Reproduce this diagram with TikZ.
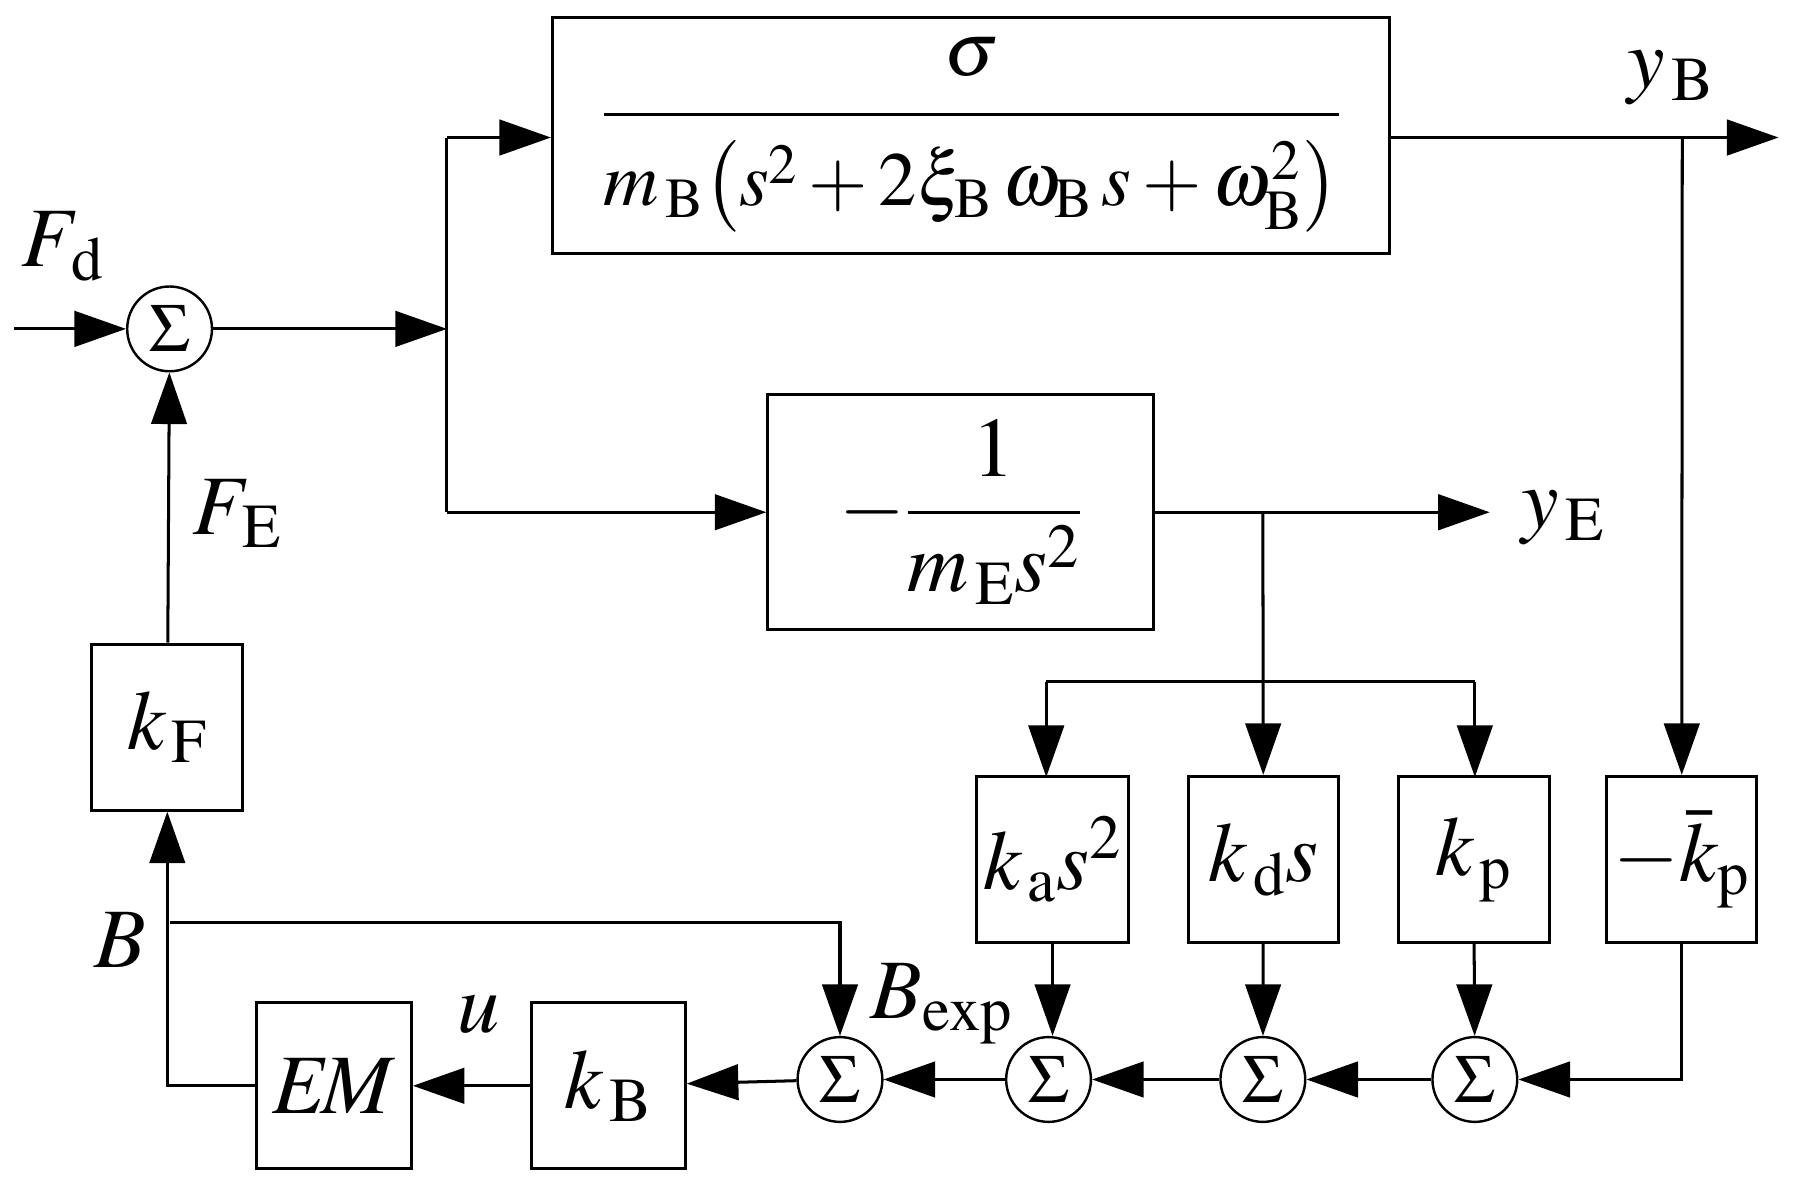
\documentclass[tikz,border=0pt]{standalone}
\usepackage{amsmath}
\usepackage{mathptmx}
\usetikzlibrary{positioning, arrows.meta, calc}
\tikzset{
  blk/.style={draw, line width=1.5pt, inner sep=0pt},
  sumn/.style={draw, circle, line width=1.2pt, minimum size=1.48cm, inner sep=0pt, font=\fontsize{34}{40}\selectfont},
  lab/.style={font=\fontsize{42}{50}\selectfont},
  sig/.style={line width=1.5pt, -{Triangle[length=0.9cm, width=0.62cm]}},
  wire/.style={line width=1.5pt}
}
\begin{document}
\begin{tikzpicture}[x=0.02cm, y=-0.02cm, lab]
  \useasboundingbox (0,0) rectangle (1569,1041);

  % blocks
  \node[blk, minimum width=14.62cm, minimum height=4.12cm, font=\fontsize{38}{46}\selectfont] (GB) at (847.5,118) {$\dfrac{\sigma\rule[-14pt]{0pt}{10pt}}{\rule{0pt}{40pt}m_{\,\mathrm{B}}\bigl(s^{2}+2\xi_{\mathrm{B}}\,\omega_{\mathrm{B}}\,s+\omega_{\mathrm{B}}^{2}\bigr)}$};
  \node[blk, minimum width=6.74cm, minimum height=4.1cm] (GE) at (838.5,447) {$-\dfrac{1}{m_{\,\mathrm{E}}s^{2}}$};
  \node[blk, minimum width=2.66cm, minimum height=2.9cm] (ka) at (918.5,750) {$k_{\,\mathrm{a}}s^{2}$};
  \node[blk, minimum width=2.62cm, minimum height=2.9cm] (kd) at (1102.5,750) {$k_{\,\mathrm{d}}s$};
  \node[blk, minimum width=2.64cm, minimum height=2.9cm] (kp) at (1286,750) {$k_{\,\mathrm{p}}$};
  \node[blk, minimum width=2.62cm, minimum height=2.9cm] (kpb) at (1467.5,750) {$-\bar{k}_{\mathrm{p}}$};
  \node[blk, minimum width=2.64cm, minimum height=2.9cm] (kF) at (146,634.5) {$k_{\,\mathrm{F}}$};
  \node[blk, minimum width=2.68cm, minimum height=2.9cm] (kB) at (531,947.5) {$k_{\,\mathrm{B}}$};
  \node[blk, minimum width=2.7cm, minimum height=2.9cm] (EM) at (291.5,947.5) {$E\!M$};

  % summing junctions
  \node[sumn] (s1) at (148,287) {$\Sigma$};
  \node[sumn] (sB) at (733,942) {$\Sigma$};
  \node[sumn] (sa) at (915,942) {$\Sigma$};
  \node[sumn] (sd) at (1102,942) {$\Sigma$};
  \node[sumn] (sp) at (1287,942) {$\Sigma$};

  % points
  \coordinate (in) at (12,287);
  \coordinate (j1) at (390,287);
  \coordinate (yBo) at (1552,120);
  \coordinate (yEo) at (1300,447);
  \coordinate (bk) at (148,805);

  % forward path
  \draw[sig] (in) -- (s1);
  \draw[sig] (s1) -- (j1);
  \draw[wire] (390,120) -- (390,447);
  \draw[sig] (390,120) -- (GB.west |- 0,120);
  \draw[sig] (390,447) -- (GE);
  \draw[sig] (GB.east |- 0,120) -- (yBo);
  \draw[sig] (GE) -- (yEo);

  % measurement branches
  \draw[sig] (1468,120) -- (kpb);
  \draw[sig] (1102,447) -- (kd);
  \draw[wire] (913,595) -- (1287,595);
  \draw[sig] (913,595) -- (913,678);
  \draw[sig] (1287,595) -- (1287,678);

  % controller sums
  \draw[sig] (ka) -- (ka |- sa.north);
  \draw[sig] (kd) -- (sd);
  \draw[sig] (kp) -- (sp);
  \draw[sig] (kpb.south) |- (sp);
  \draw[sig] (sp) -- (sd);
  \draw[sig] (sd) -- (sa);
  \draw[sig] (sa) -- (sB);
  \draw[sig] (sB) -- (kB);
  \draw[sig] (kB) -- (EM);

  % actuator loop
  \draw[sig] (EM.west) -| (kF.south);
  \draw[sig] (kF) -- (s1);
  \draw[sig] (bk) -| (sB);

  % labels
  \node at (55,215) {$F_{\,\mathrm{d}}$};
  \node at (207,448) {$F_{\,\mathrm{E}}$};
  \node at (1458,68) {$y_{\,\mathrm{B}}$};
  \node at (1364,452) {$y_{\,\mathrm{E}}$};
  \node at (105,820) {$B$};
  \node at (418,885) {$u$};
  \node at (822,876) {$B_{\mathrm{exp}}$};
\end{tikzpicture}
\end{document}
